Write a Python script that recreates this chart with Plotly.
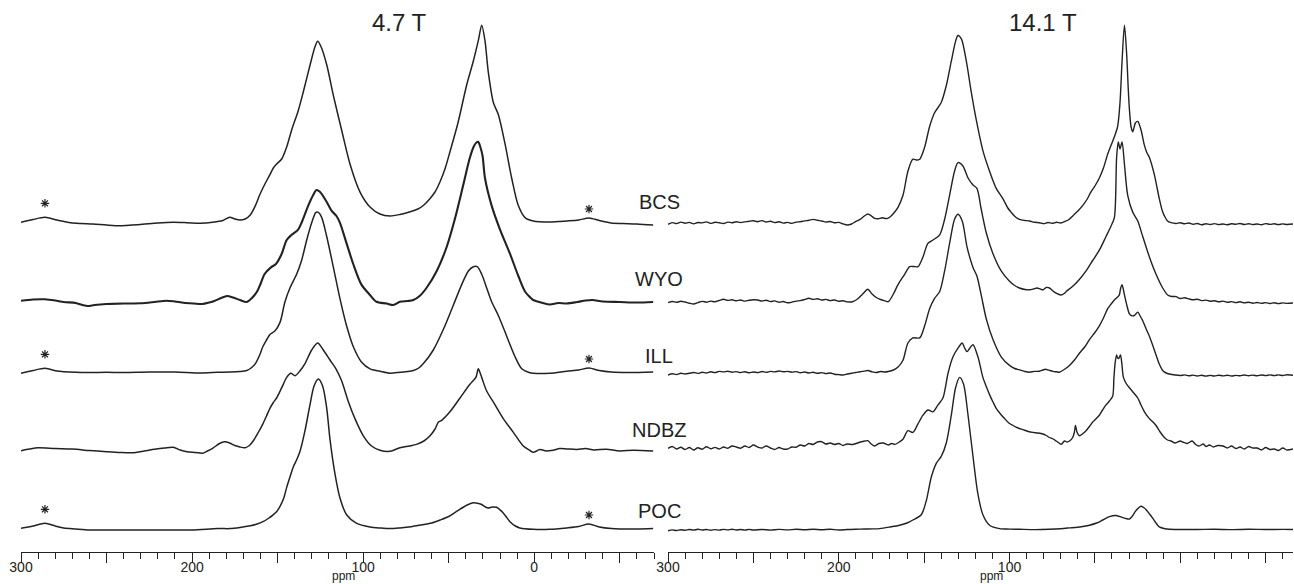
import plotly.graph_objects as go

W, H = 1294, 584
FONT = "Liberation Sans, Arial, sans-serif"
INK = "#222222"

samples = ["BCS", "WYO", "ILL", "NDBZ", "POC"]
fields = ["4.7 T", "14.1 T"]

# 13C spectra at 4.7 T: (ppm, intensity above the trace baseline)
bcs_47 = [(300, 0.7), (293, 3.5), (286, 5.7), (279, 3), (271, 0.3), (265, -0.5), (258, -1), (250, -2), (242, -2.7),
          (235, -2), (229, -1.3), (220, 0), (211, 0.7), (203, 0.3), (195, -0.3), (188, 0.7), (182, 2.5), (178, 5.7),
          (175, 4), (172, 3), (169, 4), (166, 8), (163, 17.4), (160.5, 28), (158.6, 35), (156.5, 42), (154.5, 48.4),
          (152.5, 55), (150.6, 59), (147.6, 64), (144.7, 76), (141.8, 93), (138, 112), (135, 131), (131, 158.3),
          (128.2, 176), (126.6, 181.7), (124.8, 177), (121.3, 158.3), (117.4, 127.4), (112.6, 93), (107.7, 59),
          (101.9, 31.2), (96, 16), (90.2, 9), (84.3, 7), (78.5, 8.5), (73, 11), (68, 14), (64.5, 18), (61, 24.3),
          (58, 31), (55, 41.5), (52, 55), (49.3, 71), (44.6, 100), (39.5, 138), (35.6, 162), (32.7, 182.4),
          (30.7, 197.8), (28.8, 182.4), (26.9, 151.5), (23.9, 120.5), (21, 108.5), (17.1, 79.3), (13.2, 45),
          (9.3, 17.4), (5.4, 5.4), (0.6, 2), (-9, 1), (-19, 2), (-26, 3), (-32, 5), (-38, 2.5), (-45, 0),
          (-52, -0.5), (-60, -1), (-69.5, -2)]

wyo_47 = [(300, 1.3), (293, 2.5), (286, 2.7), (280, 1.5), (275, 0), (268, -1), (264, -3), (261, -4), (257, -3),
          (250, -2), (240, -1.5), (230, -1.3), (222, 0), (215, 1.3), (210, 0.5), (205, -0.7), (199, -1.5), (194, -2),
          (190, -0.5), (187, 1), (183, 4), (179.6, 6), (176, 4.5), (172, 2), (168, 0), (165, 4), (162, 10.5),
          (160, 18), (157.6, 28), (153.9, 34.6), (151, 38), (147.6, 48.3), (144.7, 62), (141.8, 67.2), (138, 72.4),
          (136, 79.3), (132.1, 96.4), (129.2, 107), (127.3, 112), (125.3, 110.2), (121.3, 100), (118.5, 91.3),
          (115.6, 86), (113.6, 79.3), (109.7, 58.6), (105.8, 38), (101, 17.4), (96, 7), (92.2, 0.2), (86.3, -1.5),
          (82.4, -3), (78.5, 0.2), (74, 1), (70.7, 2), (67, 6), (63, 14), (57, 31), (51.2, 55), (46.4, 83),
          (41.5, 117), (37.6, 144.5), (35.2, 156), (33.8, 159.5), (32.7, 160), (31.5, 155), (30.2, 146),
          (28.8, 124), (24.9, 96.4), (20, 72.4), (14.2, 48.3), (9.3, 26), (5.4, 10.5), (2, 4), (0.6, 2), (-5, -1),
          (-9.2, -2.5), (-14, -1), (-19, -1.5), (-25, 0), (-30, 1.5), (-34, 2), (-40, 0.5), (-50, 0), (-60, -0.5),
          (-69.5, 0)]

ill_47 = [(300, -1.3), (293, 1.5), (286, 3.7), (279, 1), (275, 0.3), (268, -0.3), (260, -0.5), (250, -0.3),
          (240, -0.5), (225, 0), (210, 0), (195, -1), (185, -0.3), (178, 0), (172, 0.5), (168, 1.5), (165.5, 4),
          (163, 8.4), (160.5, 17), (158.6, 25.5), (156.5, 32), (154.5, 37.6), (151.6, 41), (148.6, 49.6),
          (145.7, 70.2), (142.8, 84), (138.9, 97.7), (136, 111.5), (133, 132), (130.1, 149.3), (127.6, 159.6),
          (126.2, 159.6), (124.2, 154.4), (121.3, 135.5), (117.4, 104.6), (113.6, 73.6), (109.7, 46.2),
          (105.8, 25.5), (101, 10), (96, 3.2), (90.2, 0.8), (84.3, -1.3), (78.5, -0.2), (74, 0.5), (70.7, 1.5),
          (67.5, 4), (64.8, 8.4), (59, 22), (53.1, 42.7), (47.3, 66.8), (42.4, 87.4), (38.5, 101), (35.6, 105.3),
          (33.3, 105.3), (30.7, 97.7), (27.8, 84), (24.9, 70.2), (21, 56.5), (16.1, 35.8), (11.2, 15.2), (7.3, 3.2),
          (3, -0.5), (0.6, -1.3), (-9.2, -1.3), (-19, 0.8), (-26, 2), (-32, 4), (-38, 1.5), (-45, 0), (-55, -0.5),
          (-69.5, 0)]

ndbz_47 = [(300, 0.3), (295, 2), (290, 3.3), (280, 2.5), (270, 2), (260, 0.5), (250, -0.7), (242, -1.5),
           (235, -1.7), (228, 0), (222, 1.7), (216, 3), (211, 3.7), (207, 1), (203, -0.7), (198, -1.5), (194, -2.3),
           (191, 0), (188, 2.7), (184, 7.5), (181, 9.3), (178, 8), (175, 5.5), (172, 4), (169, 3.3), (166.5, 5.5),
           (164.3, 10), (161.5, 18), (158.6, 27.2), (156.5, 35), (154.5, 42.7), (152.5, 48.5), (150.6, 53),
           (147.6, 63.3), (144.7, 73.6), (142.3, 77.7), (139.8, 75.3), (137, 80), (134, 87.4), (130.1, 101),
           (126.6, 108), (123.3, 101), (119.4, 91), (115.9, 82.2), (112.6, 70.2), (108.7, 49.6), (104.8, 32.4),
           (99.9, 15.2), (95.1, 5), (90.2, 0.8), (84.3, -0.3), (78.5, 3.2), (73, 5), (68.8, 6.6), (64.5, 10),
           (60.9, 15.2), (58, 22), (56, 29), (54.1, 30.7), (49.3, 39.2), (43.4, 53), (37.6, 66.7), (34.1, 73.6),
           (32.7, 82.2), (31.2, 76), (30.2, 71), (27.8, 60), (22.9, 46.1), (18.1, 32.4), (12.2, 18.6), (6.4, 5),
           (2.5, 0.5), (0.6, -1.3), (-3.3, 1.4), (-7, 0), (-11, 0.8), (-15, 2.5), (-19, 2.1), (-25, 1.5), (-30, 2.5),
           (-35, 1), (-42, 1.8), (-50, 0), (-58, 0.8), (-69.5, 0)]

poc_47 = [(300, 0.2), (293, 2.5), (286, 5.2), (280, 2.5), (275, 0.5), (268, -0.5), (260, -1.5), (250, -1.5),
          (240, -1.5), (220, -1.5), (200, -1.5), (185, 0), (178, -0.1), (172, 1), (166, 2.7), (162, 4.5),
          (158.6, 6.8), (155.5, 10), (152.6, 13.7), (150.5, 17), (148.6, 22.2), (146.5, 30), (144.7, 41.1),
          (142.7, 52), (140.8, 61.8), (138.8, 69), (136.9, 77.2), (134, 97.8), (131.1, 123.6), (128.7, 142.5),
          (126.2, 149.4), (123.7, 142.5), (121.3, 120.2), (119.4, 89.3), (116.5, 54.9), (113.6, 30.8),
          (109.7, 13.7), (103.8, 5.1), (96, 1.6), (90, 0.5), (84.3, -0.1), (78.5, 0.6), (72, 1.8), (66.8, 3.3),
          (60, 5.5), (55, 8.5), (50, 12), (45.4, 17.1), (39.5, 23.3), (35.6, 25.7), (32.5, 25), (30.7, 24),
          (28.5, 21.5), (26.9, 20.5), (24.5, 21.5), (22, 21.2), (19, 17.1), (16.5, 12), (14.2, 6.8), (11, 2.5),
          (8.4, 0.6), (0.6, -0.8), (-9, -0.8), (-19, 0.6), (-26, 2), (-32, 4.5), (-38, 1.5), (-45, 0), (-60, -0.5),
          (-69.5, 0)]

# 13C spectra at 14.1 T
bcs_141 = [(300, -1.3), (297.5, 0.4), (295, -0.6), (292.5, 0.9), (290, -0.2), (287.5, 0.6), (285, -0.9),
           (282.5, 0.5), (280, 0.1), (277.5, 1.1), (275, -0.4), (272.5, 0.7), (270, 0.2), (267.5, -0.5), (265, 0.9),
           (262.5, 0.3), (260, 1.3), (257.5, 0.4), (255, 1.1), (252.5, 1.7), (250, 2.2), (247.5, 1.3), (245, 2.4),
           (242.5, 1.0), (240, 1.7), (237.5, 0.4), (235, 1.2), (232.5, -0.1), (230, 0.6), (227.5, -0.4), (225, 0.9),
           (222.5, 1.3), (220, 2.1), (217.5, 2.7), (215, 3.6), (212.5, 2.7), (210, 2.0), (207.5, 0.9), (205, 1.5),
           (202.5, 0.2), (200, 0.6), (197.5, -0.9), (195, -2.0), (192.5, -1.0), (190, 1.6), (187.5, 3.6), (185, 7.0),
           (183, 9.0), (181, 7.2), (179, 4.6), (177, 4.2), (174.5, 5.2), (172, 4.4), (170, 6.0), (167.5, 10.5),
           (165.3, 15.7), (162.4, 27.7), (159.5, 51.8), (156.6, 63.8), (154.5, 63), (152.6, 63.8), (149.7, 75.9),
           (146.8, 96.5), (143.9, 110.2), (140, 120.5), (137, 137.7), (134.1, 161.8), (131.5, 182.4),
           (130.2, 187.5), (128.2, 184.1), (125.3, 161.8), (122.4, 130.8), (119.5, 103.3), (115.6, 72.4),
           (111.7, 51.8), (107.8, 34.6), (103.9, 24.3), (101, 15), (99, 10.6), (96.5, 6), (94.2, 3.7), (91.5, 2.6),
           (88.3, 2.0), (85.5, 0.7), (82.5, 0.3), (80, -0.6), (77.5, 0.5), (75, -0.3), (72.5, 0.7), (70, 0.0),
           (67.5, 1.6), (65, 3.8), (63, 7.1), (60, 12), (57.2, 17.4), (54.5, 24), (52.3, 31.2), (50, 37),
           (47.4, 45), (45, 55), (42.5, 69), (40.5, 78), (38.6, 86.2), (36.7, 96.5), (35.3, 120.5), (34.1, 161.8),
           (32.7, 197.8), (31.4, 168.6), (30.5, 135), (29.8, 113.7), (28.8, 96), (27.8, 91.3), (26.3, 100),
           (24.9, 101.6), (23, 93), (21, 77.6), (19.5, 70), (18.1, 65.5), (15.2, 48.4), (12.3, 24.3), (10.5, 12),
           (9.3, 7.1), (7.5, 2), (5.4, 0.3), (2.5, -0.5), (0, 0.3), (-2.5, -0.8), (-5, 0), (-7.5, -1.2), (-10, -0.5),
           (-12.5, -1.8), (-15, -0.8), (-17.5, -1.5), (-20, -0.6), (-22.5, -1.6), (-25, -1), (-27.5, -1.8),
           (-30, -0.8), (-32.5, -1.2), (-35, -0.5), (-37.5, -1.5), (-40, -0.7), (-42.5, -1.6), (-45, -1),
           (-47.5, -1.8), (-50, -0.6), (-52.5, -1.4), (-55, -0.8), (-57.5, -1.6), (-60, -0.9), (-62.5, -1.5),
           (-66, -1)]

wyo_141 = [(300, -0.7), (297.5, 0.5), (295, -0.3), (292.5, 0.8), (290, 0), (287.5, -1.2), (285, -2), (282.5, -0.6),
           (280, 0.6), (277.5, -0.2), (275, 0.9), (272.5, 0.2), (270, 1.5), (267.5, 2.7), (265, 1.6), (262.5, 2.2),
           (260, 1.2), (257.5, 2.0), (255, 0.9), (252.5, 1.7), (250, 2.2), (247.5, 2.0), (245, 1.0), (242.5, 1.8),
           (240, 0.4), (237.5, 1.1), (235, -0.2), (232.5, 0.5), (230, -0.8), (227.5, -0.2), (225, 0.9), (222.5, 1.4),
           (220, 2.5), (217.5, 3.7), (215, 2.6), (212.5, 3.2), (210, 2.0), (207.5, 2.6), (205, 1.4), (202.5, 2.0),
           (200, 0.8), (197.5, 1.2), (195, 0.1), (192, 0.3), (189, 3), (186, 8), (183, 12.7), (180.5, 8),
           (178, 4.5), (175.5, 2.5), (173, 1.2), (171, 0.3), (168, 8), (165.3, 17.4), (161.4, 27.7), (158.5, 35.3),
           (156, 35.5), (153.6, 35.3), (150.7, 45), (147.8, 58.6), (144.8, 62), (140.9, 67.2), (138, 82.7),
           (135.1, 106.7), (132.2, 130.8), (130.2, 139.4), (127.3, 136), (124.3, 124), (121.4, 117), (119.1, 113.6),
           (116.6, 93), (113.6, 69), (109.7, 48.3), (104.9, 31.1), (100, 20.8), (97, 16.5), (94.2, 14), (91, 12.5),
           (88.3, 12.2), (86, 13), (84, 14), (82, 13), (80.5, 12.2), (78.5, 14.5), (76.6, 14), (74.5, 11),
           (72.7, 8.8), (69.8, 7), (68, 8.5), (66.8, 10.5), (63, 15.7), (59.1, 22.5), (55.2, 31.1), (51.3, 41.5),
           (47.4, 51.8), (43.5, 65.5), (40.6, 75.8), (38.6, 84.4), (37.3, 144.5), (36.3, 160), (35.3, 153),
           (34.1, 160), (32.7, 137.7), (30.8, 106.7), (27.8, 89.6), (24.9, 81), (22, 65.5), (18.1, 45),
           (14.2, 27.7), (10.3, 14), (7.4, 7), (5, 5.5), (2.5, 5.4), (0, 3.5), (-2.5, 4.2), (-5.3, 3), (-7.5, 2.2),
           (-10, 2.8), (-12.5, 1.4), (-15, 1.9), (-17.5, 0.8), (-20, 1.3), (-22.5, 0.2), (-25, 0.9), (-27.5, -0.3),
           (-30, 0.4), (-32.5, -0.6), (-35, 0.2), (-37.5, -0.9), (-40, -0.2), (-42.5, -1.2), (-45, -0.5),
           (-47.5, -1.4), (-50, -0.6), (-52.5, -1.5), (-55, -0.8), (-57.5, -1.6), (-60, -0.9), (-62.5, -1.4),
           (-66, -1)]

ill_141 = [(300, -3), (297.5, -1.8), (295, -2.6), (292.5, -1.2), (290, -2), (287.5, -1.3), (285, -0.5),
           (282.5, -1.4), (280, -0.3), (277.5, -1), (275, 0.2), (272.5, -0.6), (270, 0.6), (267.5, 0.1), (265, 0.8),
           (262.5, -0.2), (260, 0.4), (257.5, -0.6), (255, 0.3), (252.5, -0.8), (250, 0), (247.5, -0.6), (245, 0.5),
           (242.5, -0.4), (240, 0.6), (237.5, 0.1), (235, 1), (232.5, 0.2), (230, 0.6), (227.5, -0.2), (225, 0.4),
           (222.5, -0.8), (220, 0), (217.5, -1), (215, -0.3), (212.5, -1.3), (210, -0.6), (207.5, -1.6), (205, -1),
           (202.5, -2.2), (200, -2.6), (197.5, -3), (195, -2), (192.5, -1.2), (190, -0.5), (187.5, 0.3), (185, 0.9),
           (183, 1.5), (180.5, 0.2), (178, -0.5), (175.5, 0.5), (173, 0), (171, 0.5), (168, 2), (165.3, 5),
           (162.4, 11.8), (159.5, 29), (156.6, 34.1), (152.6, 34.1), (149.7, 46.2), (146.8, 63.3), (143.9, 73.6),
           (140.9, 80.5), (138, 101.1), (135.1, 128.6), (132.2, 152.7), (130.2, 157.8), (127.7, 151),
           (124.9, 125.2), (121.4, 104.6), (119.1, 96), (116.6, 77.1), (113.6, 53), (109.7, 32.4), (104.9, 15.2),
           (100, 6.6), (97, 3.5), (94.2, 2.2), (91, 0.5), (88.3, -0.2), (85.5, 0.6), (82.5, 0.8), (80.5, 2),
           (79, 2.8), (77, 1.8), (74.5, 0.6), (72.5, 0.2), (70.8, -0.2), (68, 2.5), (64.9, 6.6), (62, 12),
           (59.1, 18.7), (56, 25), (53.2, 32.4), (50, 39.5), (47.4, 46.2), (45, 54), (42.5, 63.3), (40.5, 68),
           (38.6, 72), (36.7, 75), (35.7, 77.1), (34.9, 84), (34.1, 87.4), (33.4, 83), (32.7, 77.1), (31.2, 66),
           (29.8, 58.2), (28.3, 56.2), (26.9, 56.5), (24.9, 59.9), (23.5, 56), (22, 51.3), (20, 43), (18.1, 35.8),
           (16, 26), (14.2, 17), (12.3, 8), (10.3, 1.5), (8.3, -1), (6.4, -2), (3, -3), (0, -3.5), (-2.5, -2.9),
           (-5, -3.8), (-7.5, -3.1), (-10, -4), (-12.5, -3.3), (-15, -4.1), (-17.5, -3.4), (-20, -4), (-22.5, -3.2),
           (-25, -3.9), (-27.5, -3.3), (-30, -4), (-32.5, -3.4), (-35, -3.8), (-37.5, -3), (-40, -3.7),
           (-42.5, -3.1), (-45, -3.8), (-47.5, -3), (-50, -3.6), (-52.5, -2.9), (-55, -3.6), (-57.5, -2.9),
           (-60, -3.5), (-62.5, -2.8), (-66, -3.2)]

ndbz_141 = [(300, 0.7), (297.5, 2.5), (295, 0), (292.5, 1.8), (290, -0.5), (287.5, 1.5), (285, -1), (282.5, 1.2),
            (280, -0.2), (277.5, 2.2), (275, 0.3), (272.5, 1.6), (270, 0), (267.5, 2), (265, 0.8), (262.5, 3),
            (260, 2), (257.5, 0.8), (255, 3), (252.5, 1.5), (250, 4), (247.5, 2), (245, 1), (242.5, 3), (240, 1),
            (237.5, -0.5), (235, 1.5), (232.5, 0), (230, 0), (227.5, 2), (225, 1.8), (222.5, 4), (220, 3),
            (217.5, 5.5), (215, 4.5), (212.5, 7), (210, 7.3), (207.5, 5), (205, 6), (202.5, 4.5), (200, 5.5),
            (197.5, 3.5), (195, 5), (192, 4.5), (189, 6), (186, 7.5), (183, 8.3), (181, 5), (179, 3), (176.5, 5.5),
            (174, 6), (171, 4), (169, 5.5), (167.2, 4.6), (165, 6.5), (162.4, 9.8), (159.5, 18.3), (156.6, 16.6),
            (153.6, 25.2), (150.7, 33.8), (147.8, 39), (144.8, 37.2), (141.9, 44.1), (139, 51), (137.5, 62),
            (136.1, 75), (133.1, 92.2), (130.2, 100.8), (127.7, 106), (126.3, 101), (124.9, 97.4), (123.2, 101),
            (121.4, 104.3), (118.5, 92.2), (115.6, 71.6), (113.5, 62), (111.7, 54.4), (109.7, 47), (107.8, 40.7),
            (105.3, 35), (102.9, 30.4), (100.4, 26), (98, 23.5), (95, 21), (92.2, 19.4), (89, 17.5), (86.3, 16.6),
            (83.5, 16), (80.5, 15), (78.5, 13.5), (76.6, 11.5), (74.5, 10), (72.7, 8), (71, 6), (69.8, 4.6),
            (67.8, 8), (66.3, 7), (64.9, 8), (63, 11.5), (62, 17), (61.4, 23.5), (60.5, 17), (59.1, 13.2),
            (57, 15.5), (55.2, 18.3), (53, 23), (51.3, 27), (49.5, 30), (47.4, 33.8), (45.5, 39), (43.5, 44.1),
            (41.5, 48), (39.6, 52.7), (38.9, 70), (38.2, 85.4), (37.3, 94), (36.7, 91), (36.1, 90.5), (35.5, 92.5),
            (35, 94), (34.2, 85), (33.3, 71.6), (31.5, 65), (29.8, 61.3), (27.5, 56.5), (24.9, 51), (23, 44),
            (21, 37.2), (18.1, 30.4), (16, 27), (14.2, 23.5), (11.8, 17), (9.3, 11.5), (7.5, 9), (5.4, 8), (3, 6),
            (0, 8), (-1.4, 7), (-4, 5.5), (-7, 8), (-9, 4.5), (-11, 3), (-13.5, 5), (-15, 2.5), (-17, 4),
            (-19.5, 2), (-22, 3.5), (-25, 3), (-27.5, 1), (-30, 3), (-32.5, 0.5), (-35, 2), (-37.5, 0), (-40, 2.5),
            (-42.5, 1), (-45, 1), (-47.5, -1), (-50, 1.5), (-52.5, -0.5), (-55, 0), (-57.5, -1.5), (-60, 1),
            (-62.5, -1), (-66, 0)]

poc_141 = [(300, -1.2), (297.5, -0.4), (295, -1), (292.5, -0.2), (290, -0.8), (287.5, 0), (285, -0.6),
           (282.5, 0.2), (280, -0.5), (277.5, 0), (275, -0.7), (272.5, -0.1), (270, -0.6), (267.5, 0.1),
           (265, -0.4), (262.5, 0.2), (260, -0.5), (257.5, 0), (255, -0.6), (252.5, 0.1), (250, -0.5), (245, 0),
           (240, -0.6), (235, 0.1), (230, -0.4), (225, 0.2), (220, -0.3), (215, 0.3), (210, -0.2), (205, 0.2),
           (200, -0.5), (195, 0), (190, 0.3), (185, 0.5), (180, 0.6), (176, 0.9), (170, 2.5), (164.3, 4.3),
           (160, 6.5), (156.6, 9.5), (151.7, 14.7), (148.8, 28.5), (145.8, 52.5), (142.9, 66.2), (140, 73.1),
           (137, 86.8), (134.1, 114.3), (131.6, 141.8), (129.2, 152.1), (126.9, 145.2), (124.3, 114.3),
           (121.4, 73.1), (118.5, 35.3), (115.6, 14.7), (111.7, 4.3), (105.8, 0.9), (100, 0.4), (94.2, 0.2),
           (85, -0.1), (76.6, 0.2), (70, 0.8), (64.9, 1.6), (58, 2.8), (53.2, 4.3), (49, 6.5), (45.4, 9.5),
           (41.5, 12.9), (37.6, 14), (33.7, 11.9), (31.5, 10.8), (29.8, 10.5), (28, 13.5), (26.3, 18.1),
           (24.5, 21.5), (23, 23.2), (21.5, 22), (20, 19.8), (18, 15.5), (16.1, 11.2), (14, 6), (12.3, 2.6),
           (9, 0.8), (6.4, 0.2), (0, 0), (-10, 0), (-20, 0.2), (-30, -0.1), (-40, 0.2), (-50, 0), (-60, 0.1),
           (-66, 0)]

spectra_47 = [bcs_47, wyo_47, ill_47, ndbz_47, poc_47]
spectra_141 = [bcs_141, wyo_141, ill_141, ndbz_141, poc_141]

# spinning sidebands marked with an asterisk (4.7 T only)
sideband_ppm = [286, -32]
starred = ["BCS", "ILL", "POC"]

# vertical stacking of the traces (px above the ppm axis)
offsets_47 = [329, 250, 180, 101, 23.5]
offsets_141 = [329, 250, 180, 103, 22.5]
label_y = [202, 279, 356, 430, 511]  # sample names, px from the top

AXIS_Y = 552  # px from top where the ppm axis sits

fig = go.Figure()


def add_trace(spec, offset, xa, ya, width):
    fig.add_trace(go.Scatter(
        x=[p for p, _ in spec], y=[v + offset for _, v in spec],
        xaxis=xa, yaxis=ya, mode="lines",
        line=dict(color=INK, width=width, shape="spline", smoothing=0.8),
        hoverinfo="skip", showlegend=False))


for name, spec, off in zip(samples, spectra_47, offsets_47):
    add_trace(spec, off, "x", "y", 2.1 if name == "WYO" else 1.5)
for name, spec, off in zip(samples, spectra_141, offsets_141):
    add_trace(spec, off, "x2", "y2", 1.4)

# asterisks above the sidebands
sx, sy = [], []
for name, spec, off in zip(samples, spectra_47, offsets_47):
    if name not in starred:
        continue
    lookup = dict(spec)
    for i, p in enumerate(sideband_ppm):
        sx.append(p)
        sy.append(off + lookup[p] + (14 if i == 0 else 9))
fig.add_trace(go.Scatter(x=sx, y=sy, xaxis="x", yaxis="y", mode="markers",
                         marker=dict(symbol="asterisk-open", size=7, color=INK,
                                     line=dict(color=INK, width=1.2)),
                         hoverinfo="skip", showlegend=False))

tickvals = list(range(300, -51, -50))
left_text = [str(v) if v % 100 == 0 else "" for v in tickvals]
right_text = [str(v) if (v % 100 == 0 and v > 0) else "" for v in tickvals]


def xaxis(domain, rng, text, anchor):
    return dict(domain=domain, range=rng, anchor=anchor, automargin=False,
                showgrid=False, zeroline=False,
                showline=True, linecolor=INK, linewidth=1.3,
                tickmode="array", tickvals=tickvals, ticktext=text,
                ticks="outside", ticklen=10, tickwidth=1.2, tickcolor=INK,
                ticklabelstandoff=-8,
                minor=dict(dtick=10, tick0=0, ticks="outside", ticklen=6, tickwidth=1.1, tickcolor=INK),
                tickfont=dict(family=FONT, size=14, color=INK))


ydom = [(H - AXIS_Y) / H, 1]
fig.update_layout(
    width=W, height=H, margin=dict(l=0, r=0, t=0, b=0, autoexpand=False),
    paper_bgcolor="white", plot_bgcolor="white", showlegend=False,
    xaxis=xaxis([21 / W, 654 / W], [300, -70], left_text, "y"),
    xaxis2=xaxis([668 / W, 1293 / W], [300, -66], right_text, "y2"),
    yaxis=dict(domain=ydom, range=[0, AXIS_Y], visible=False, fixedrange=True, automargin=False),
    yaxis2=dict(domain=ydom, range=[0, AXIS_Y], visible=False, anchor="x2", fixedrange=True, automargin=False),
)


def note(txt, px, py, size):
    return dict(text=txt, x=px / W, y=1 - py / H, xref="paper", yref="paper",
                xanchor="center", yanchor="middle", showarrow=False,
                font=dict(family=FONT, size=size, color=INK))


ann = [note(t, px, 22, 24) for t, px in zip(fields, [399, 1043])]
ann += [note(t, 659, py, 20) for t, py in zip(samples, label_y)]
ann += [note("ppm", px, 576, 12) for px in [343, 991]]
fig.update_layout(annotations=ann)

fig.write_html("out.html")
